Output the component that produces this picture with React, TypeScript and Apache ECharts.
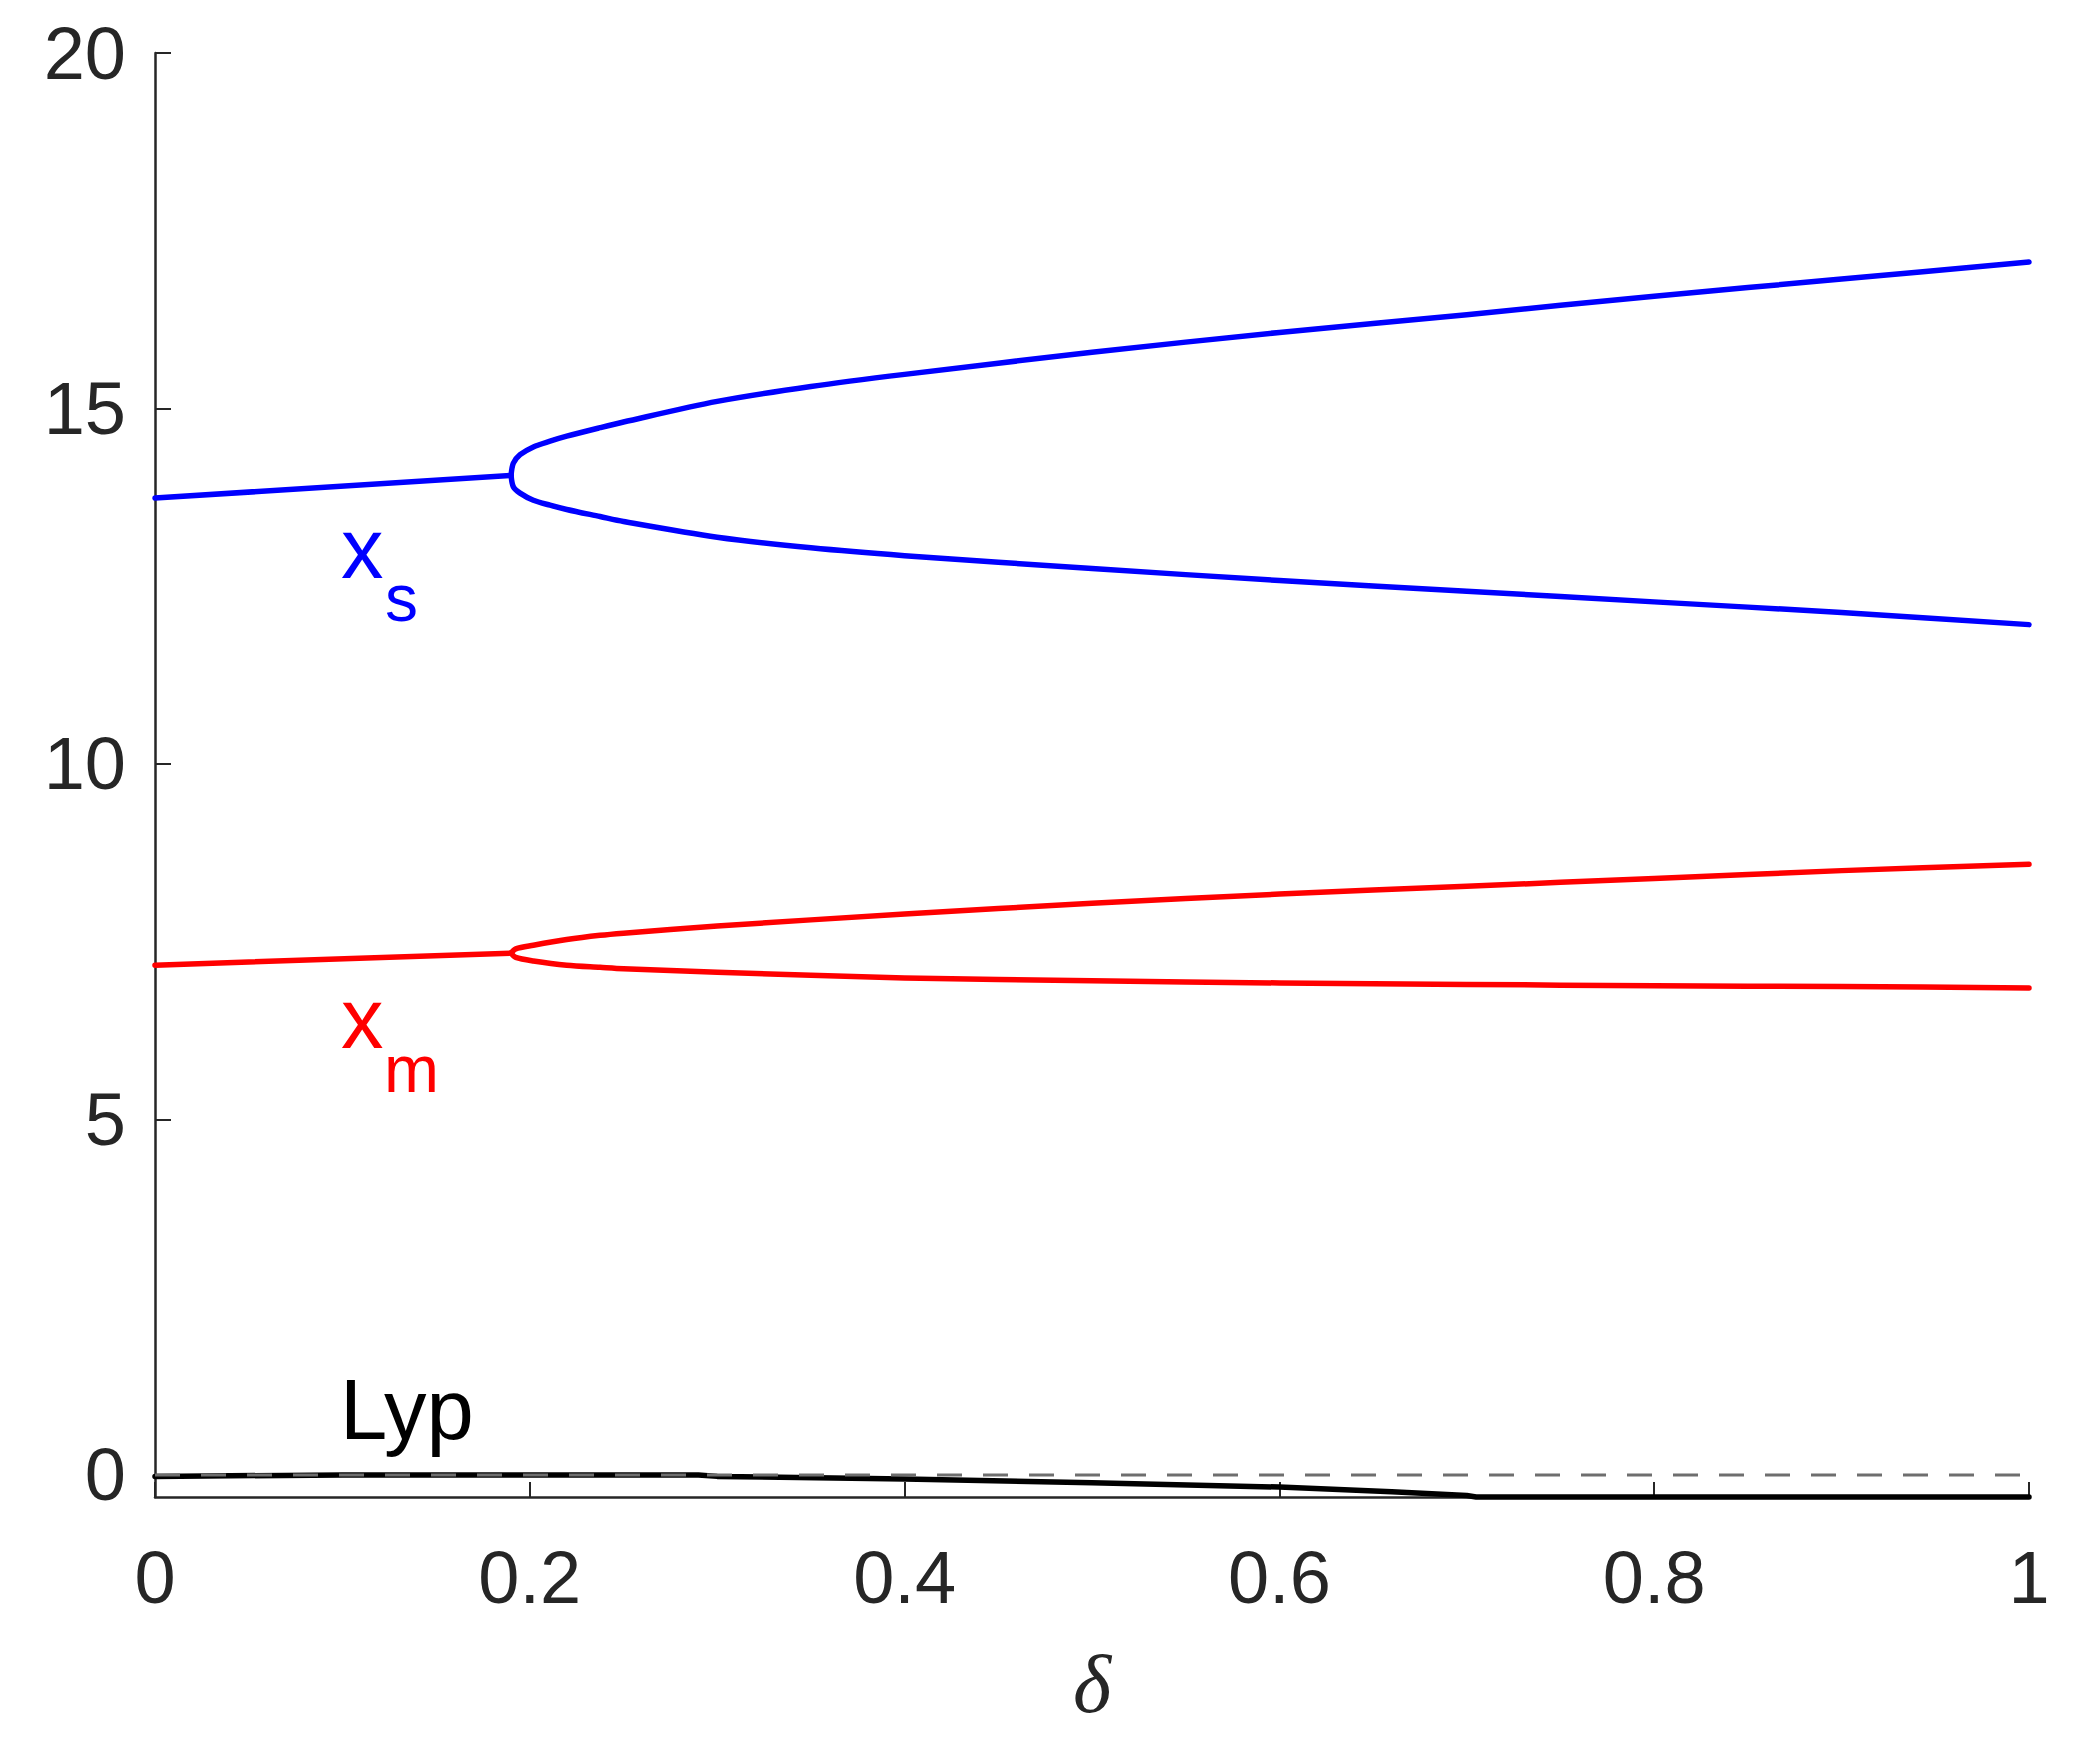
import React, { useEffect, useRef } from "react";
import * as echarts from "echarts";

// ---- data ----
const xTickValues = [0, 0.2, 0.4, 0.6, 0.8, 1];
const yTickValues = [0, 5, 10, 15, 20];

const blueStemDelta = [0, 0.19];
const blueStemValue = [13.74, 14.06];
const blueUpperDelta = [0.19, 0.1912, 0.1948, 0.2019, 0.2108, 0.2197, 0.2375, 0.25, 0.3, 0.35, 0.4, 0.5, 0.6, 0.7, 0.8, 0.9, 1.0];
const blueUpperValue = [14.06, 14.23, 14.35, 14.46, 14.54, 14.61, 14.73, 14.81, 15.1, 15.31, 15.48, 15.79, 16.07, 16.32, 16.58, 16.82, 17.06];
const blueLowerDelta = [0.19, 0.1912, 0.1948, 0.2019, 0.2108, 0.2197, 0.2375, 0.25, 0.3, 0.35, 0.4, 0.5, 0.6, 0.7, 0.8, 0.9, 1.0];
const blueLowerValue = [14.06, 13.9, 13.81, 13.71, 13.64, 13.58, 13.48, 13.41, 13.19, 13.04, 12.93, 12.75, 12.58, 12.43, 12.28, 12.13, 11.96];

const redStemDelta = [0, 0.19];
const redStemValue = [7.17, 7.34];
const redUpperDelta = [0.19, 0.1925, 0.2019, 0.2197, 0.2375, 0.25, 0.3, 0.4, 0.5, 0.6, 0.7, 0.8, 0.9, 1.0];
const redUpperValue = [7.34, 7.4, 7.45, 7.53, 7.59, 7.62, 7.72, 7.89, 8.04, 8.17, 8.28, 8.39, 8.5, 8.59];
const redLowerDelta = [0.19, 0.1925, 0.2019, 0.2197, 0.2375, 0.25, 0.3, 0.4, 0.5, 0.6, 0.7, 0.8, 0.9, 1.0];
const redLowerValue = [7.34, 7.28, 7.23, 7.17, 7.14, 7.12, 7.07, 6.99, 6.95, 6.92, 6.9, 6.88, 6.87, 6.85];

const lypDelta = [0, 0.1, 0.2, 0.29, 0.3, 0.4, 0.5, 0.6, 0.66, 0.7, 0.705, 0.8, 0.9, 1.0];
const lypValue = [-0.02, 0, 0, 0, -0.02, -0.056, -0.11, -0.17, -0.235, -0.29, -0.31, -0.31, -0.31, -0.31];

const zeroDelta = [0, 1];
const zeroValue = [0, 0];

const zip = (xs: number[], ys: number[]) => xs.map((x, i) => [x, ys[i]]);

const AXIS_COLOR = "#262626";
const SANS = "Liberation Sans, Arial, Helvetica, sans-serif";

export default function App() {
  const ref = useRef<HTMLDivElement>(null);

  useEffect(() => {
    if (!ref.current) return;
    const chart = echarts.init(ref.current, null, { renderer: "svg" });

    const lineSeries = (name: string, data: number[][], color: string, width = 5.5, extra: any = {}) => ({
      name,
      type: "line",
      data,
      showSymbol: false,
      symbol: "none",
      clip: false,
      lineStyle: { color, width, cap: "round", join: "round" },
      ...extra,
    });
    const smoothOpts = { smooth: 0.3 };

    const option: any = {
      animation: false,
      backgroundColor: "#ffffff",
      grid: { left: 155, right: 55, top: 53, bottom: 250, containLabel: false },
      xAxis: {
        type: "value",
        min: 0,
        max: 1,
        interval: 0.2,
        name: "δ",
        nameLocation: "middle",
        nameGap: 146,
        nameTextStyle: {
          fontFamily: "Liberation Serif, Times New Roman, serif",
          fontStyle: "italic",
          fontSize: 82,
          color: AXIS_COLOR,
        },
        axisLine: { show: true, onZero: false, lineStyle: { color: AXIS_COLOR, width: 2.5 } },
        axisTick: { show: true, inside: true, length: 15, lineStyle: { color: AXIS_COLOR, width: 2 } },
        axisLabel: {
          fontFamily: SANS,
          fontSize: 74,
          color: AXIS_COLOR,
          margin: 43,
          formatter: (v: number) => String(Math.round(v * 10) / 10),
        },
        splitLine: { show: false },
      },
      yAxis: {
        type: "value",
        min: -0.31,
        max: 20,
        axisLine: { show: true, onZero: false, lineStyle: { color: AXIS_COLOR, width: 2.5 } },
        axisTick: {
          show: true,
          inside: true,
          length: 16,
          customValues: yTickValues,
          lineStyle: { color: AXIS_COLOR, width: 2 },
        },
        axisLabel: {
          fontFamily: SANS,
          fontSize: 74,
          color: AXIS_COLOR,
          margin: 29,
          customValues: yTickValues,
          formatter: (v: number) => String(Math.round(v)),
        },
        splitLine: { show: false },
      },
      series: [
        lineSeries("xs stem", zip(blueStemDelta, blueStemValue), "#0000ff"),
        lineSeries("xs upper", zip(blueUpperDelta, blueUpperValue), "#0000ff", 5.5, smoothOpts),
        lineSeries("xs lower", zip(blueLowerDelta, blueLowerValue), "#0000ff", 5.5, smoothOpts),
        lineSeries("xm stem", zip(redStemDelta, redStemValue), "#ff0000"),
        lineSeries("xm upper", zip(redUpperDelta, redUpperValue), "#ff0000", 5.5, smoothOpts),
        lineSeries("xm lower", zip(redLowerDelta, redLowerValue), "#ff0000", 5.5, smoothOpts),
        lineSeries("Lyp", zip(lypDelta, lypValue), "#000000", 5.5),
        {
          name: "zero",
          type: "line",
          data: zip(zeroDelta, zeroValue),
          showSymbol: false,
          symbol: "none",
          clip: false,
          lineStyle: { color: "#6e6e6e", width: 3, type: [25, 21] },
        },
      ],
      graphic: [
        { type: "text", x: 341, y: 548, style: { text: "x", font: `85px ${SANS}`, fill: "#0000ff", textVerticalAlign: "middle", textAlign: "left" } },
        { type: "text", x: 385, y: 598, style: { text: "s", font: `66px ${SANS}`, fill: "#0000ff", textVerticalAlign: "middle", textAlign: "left" } },
        { type: "text", x: 341, y: 1018, style: { text: "x", font: `85px ${SANS}`, fill: "#ff0000", textVerticalAlign: "middle", textAlign: "left" } },
        { type: "text", x: 384, y: 1069, style: { text: "m", font: `66px ${SANS}`, fill: "#ff0000", textVerticalAlign: "middle", textAlign: "left" } },
        { type: "text", x: 340, y: 1409, style: { text: "Lyp", font: `85px ${SANS}`, fill: "#000000", textVerticalAlign: "middle", textAlign: "left" } },
      ],
    };

    chart.setOption(option);
    return () => chart.dispose();
  }, []);

  return (
    <div
      ref={ref}
      style={{ position: "absolute", left: 0, top: 0, width: 2084, height: 1747, background: "#fff" }}
    />
  );
}
